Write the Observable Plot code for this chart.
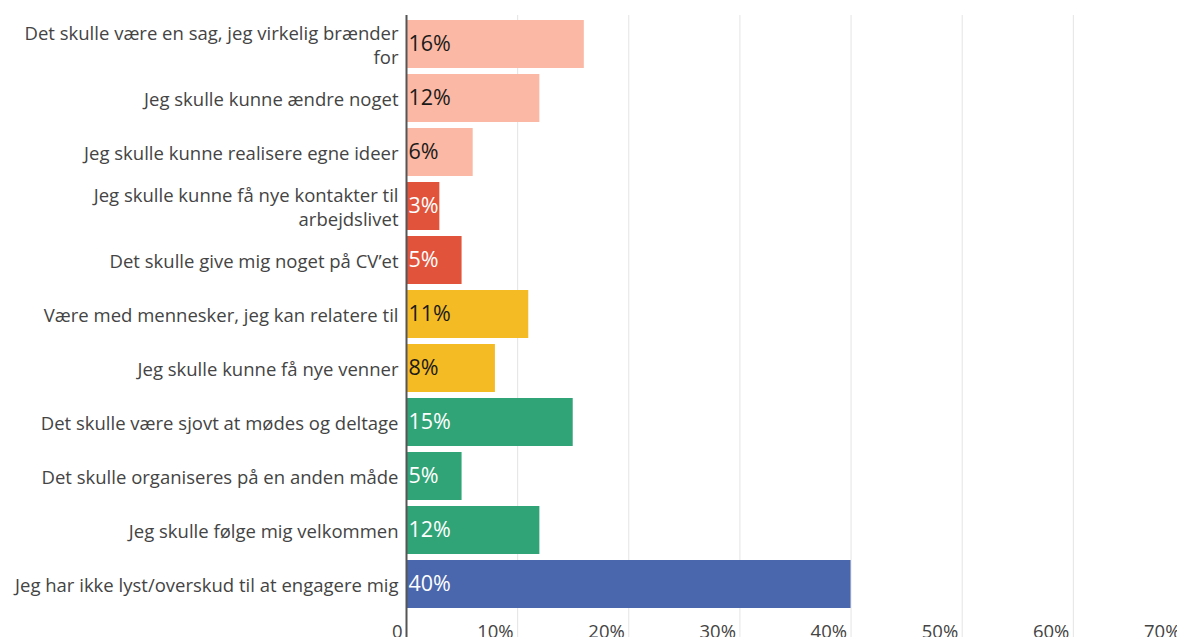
<!DOCTYPE html>
<html>
<head>
<meta charset="utf-8">
<script src="https://cdn.jsdelivr.net/npm/d3@7"></script>
<script src="https://cdn.jsdelivr.net/npm/@observablehq/plot@0.6"></script>
<style>
  html, body { margin: 0; padding: 0; background: #fff; overflow: hidden; }
  #chart svg { overflow: visible; }
</style>
</head>
<body>
<div id="chart"></div>
<script>
const categories = [
  "Det skulle være en sag, jeg virkelig brænder\nfor",
  "Jeg skulle kunne ændre noget",
  "Jeg skulle kunne realisere egne ideer",
  "Jeg skulle kunne få nye kontakter til\narbejdslivet",
  "Det skulle give mig noget på CV’et",
  "Være med mennesker, jeg kan relatere til",
  "Jeg skulle kunne få nye venner",
  "Det skulle være sjovt at mødes og deltage",
  "Det skulle organiseres på en anden måde",
  "Jeg skulle følge mig velkommen",
  "Jeg har ikke lyst/overskud til at engagere mig"
];
const values = [16, 12, 6, 3, 5, 11, 8, 15, 5, 12, 40];
const groups = ["A", "A", "A", "B", "B", "C", "C", "D", "D", "D", "E"];
const groupNames = ["A", "B", "C", "D", "E"];
const groupColors = ["#FBB8A4", "#E1533A", "#F5BB25", "#31A477", "#4A67AD"];
const labelColors = ["#1a1a1a", "#ffffff", "#1a1a1a", "#ffffff", "#ffffff"];
const xTicks = [0, 10, 20, 30, 40, 50, 60, 70];
const gridTicks = [10, 20, 30, 40, 50, 60, 70];

const data = categories.map((c, i) => ({
  cat: c,
  value: values[i],
  group: groups[i],
  label: values[i] + "%",
  labelColor: labelColors[groupNames.indexOf(groups[i])]
}));

const FONT = "'Open Sans', sans-serif";

const chart = Plot.plot({
  width: 1177,
  height: 637,
  marginLeft: 406,
  marginRight: 0,
  marginTop: 17,
  marginBottom: 25,
  style: { fontFamily: FONT, fontSize: "18.5px", color: "#444" },
  x: { domain: [0, 70], range: [406, 1184], ticks: xTicks },
  y: { domain: categories, paddingInner: 0.11, paddingOuter: 0.055, label: null },
  color: { domain: groupNames, range: groupColors },
  marks: [
    Plot.ruleX(gridTicks, { stroke: "#e4e4e4", strokeWidth: 1, insetTop: -2, insetBottom: -25 }),
    Plot.barX(data, { x: "value", y: "cat", fill: "group" }),
    Plot.ruleX([0], { stroke: "#555", strokeWidth: 2, insetTop: -2, insetBottom: -25 }),
    Plot.text(data, {
      x: 0, y: "cat", text: "label", fill: "labelColor",
      textAnchor: "start", dx: 2, fontSize: 21.5, fontFamily: FONT
    }),
    Plot.axisY({ tickSize: 0, tickPadding: 8, label: null, lineHeight: 1.3, fill: "#444", fontSize: 18.5 }),
    Plot.axisX({
      ticks: xTicks, tickSize: 0, tickPadding: 12, textAnchor: "end", dx: -4,
      label: null, fill: "#444", fontSize: 18.5,
      tickFormat: d => d === 0 ? "0" : d + "%"
    })
  ]
});
document.getElementById("chart").appendChild(chart);
</script>
</body>
</html>
